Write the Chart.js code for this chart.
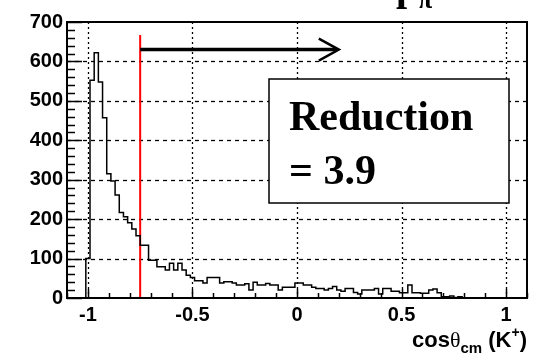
<!DOCTYPE html>
<html>
<head>
<meta charset="utf-8">
<script src="https://cdn.jsdelivr.net/npm/chart.js@4.4.0/dist/chart.umd.min.js"></script>
<style>
html, body { margin: 0; padding: 0; background: #fff; }
#wrap { width: 539px; height: 361px; }
</style>
</head>
<body>
<div id="wrap"><canvas id="cosk"></canvas></div>
<script>
// histogram of cos(theta_cm) for K+, 0.02 wide bins starting at -1.01
const binStart = -1.01;
const binWidth = 0.02;
const counts = [
  100, 552, 622, 548, 457, 315, 297, 261, 217,
  206, 191, 175, 158, 134, 134, 96, 96, 79, 79,
  71, 88, 71, 88, 71, 58, 52, 44, 44, 38,
  52, 52, 52, 38, 41, 41, 38, 33, 33, 36,
  20, 40, 33, 33, 37, 33, 33, 20, 27, 27,
  27, 38, 38, 33, 33, 27, 24, 24, 20, 24,
  29, 20, 17, 24, 24, 14, 10, 20, 20, 20,
  24, 10, 24, 24, 17, 17, 13, 13, 33, 13,
  13, 12, 12, 20, 23, 13, 3, 3, 5, 1,
  3
];

const xTicks = [-1, -0.5, 0, 0.5, 1];
const yTicks = [0, 100, 200, 300, 400, 500, 600, 700];

// cut and arrow
const cutValue = -0.75;
const cutTop = 667;
const arrowEnd = 0.2;
const arrowLevel = 630;
const boxLines = ["Reduction", "= 3.9"];

// build the step outline from the bins
const histPoints = [{ x: binStart, y: 0 }];
counts.forEach((c, i) => histPoints.push({ x: binStart + i * binWidth, y: c }));
histPoints.push({ x: binStart + counts.length * binWidth, y: 0 });

const sans = '"Liberation Sans", Arial, sans-serif';
const serif = '"Liberation Serif", "Times New Roman", serif';

const rootLook = {
  id: 'rootLook',
  beforeDatasetsDraw(chart) {
    const { ctx, chartArea: a, scales: { x, y } } = chart;
    ctx.save();
    ctx.strokeStyle = '#000';
    ctx.lineWidth = 1.3;
    // dotted grid
    ctx.setLineDash([2, 3]);
    xTicks.forEach(v => {
      const px = Math.round(x.getPixelForValue(v)) + 0.5;
      ctx.beginPath(); ctx.moveTo(px, a.top); ctx.lineTo(px, a.bottom); ctx.stroke();
    });
    ctx.setLineDash([4, 4]);
    yTicks.slice(1, -1).forEach(v => {
      const py = Math.round(y.getPixelForValue(v)) + 0.5;
      ctx.beginPath(); ctx.moveTo(a.left, py); ctx.lineTo(a.right, py); ctx.stroke();
    });
    ctx.restore();
  },
  afterDatasetsDraw(chart) {
    const { ctx, chartArea: a, scales: { x, y } } = chart;
    ctx.save();
    ctx.strokeStyle = '#000';
    ctx.setLineDash([]);

    // inward ticks
    ctx.lineWidth = 1.5;
    for (let v = -1.1; v <= 1.1001; v += 0.1) {
      const px = Math.round(x.getPixelForValue(v)) + 0.5;
      const major = Math.abs(v * 2 - Math.round(v * 2)) < 0.001;
      ctx.beginPath(); ctx.moveTo(px, a.bottom); ctx.lineTo(px, a.bottom - (major ? 9 : 5)); ctx.stroke();
    }
    for (let v = 0; v <= 700; v += 20) {
      const py = Math.round(y.getPixelForValue(v)) + 0.5;
      const major = v % 100 === 0;
      ctx.beginPath(); ctx.moveTo(a.left, py); ctx.lineTo(a.left + (major ? 15 : 8), py); ctx.stroke();
    }

    // frame
    ctx.lineWidth = 2;
    ctx.strokeRect(a.left, a.top, a.right - a.left, a.bottom - a.top);

    // arrow
    const ax0 = x.getPixelForValue(cutValue);
    const ax1 = x.getPixelForValue(arrowEnd);
    const ay = y.getPixelForValue(arrowLevel);
    ctx.lineWidth = 3.5;
    ctx.beginPath(); ctx.moveTo(ax0, ay); ctx.lineTo(ax1 - 2, ay); ctx.stroke();
    ctx.lineWidth = 2.5;
    ctx.beginPath();
    ctx.moveTo(ax1 - 20, ay - 11); ctx.lineTo(ax1, ay); ctx.lineTo(ax1 - 20, ay + 11);
    ctx.stroke();

    // text box
    ctx.fillStyle = '#fff';
    ctx.fillRect(269, 79, 240, 124);
    ctx.lineWidth = 1.5;
    ctx.strokeRect(269, 79, 240, 124);
    ctx.fillStyle = '#000';
    ctx.font = 'bold 42px ' + serif;
    ctx.textBaseline = 'alphabetic';
    ctx.fillText(boxLines[0], 289, 130);
    ctx.fillText(boxLines[1], 289, 184);
    ctx.restore();
  },
  afterDraw(chart) {
    const { ctx, chartArea: a } = chart;
    ctx.save();
    ctx.fillStyle = '#000';
    ctx.textBaseline = 'alphabetic';
    // axis title: cos theta_cm (K+)
    const parts = [
      { t: 'cos', f: 'bold 22px ' + sans, dy: 0 },
      { t: 'θ', f: '22px ' + serif, dy: 0 },
      { t: 'cm', f: 'bold 15px ' + sans, dy: 6 },
      { t: ' (K', f: 'bold 22px ' + sans, dy: 0 },
      { t: '+', f: 'bold 14px ' + sans, dy: -10 },
      { t: ')', f: 'bold 22px ' + sans, dy: 0 }
    ];
    let total = 0;
    parts.forEach(p => { ctx.font = p.f; p.w = ctx.measureText(p.t).width; total += p.w; });
    let cx = a.right - total;
    const base = 347;
    parts.forEach(p => { ctx.font = p.f; ctx.fillText(p.t, cx, base + p.dy); cx += p.w; });

    // title, cut off at the top of the picture
    ctx.font = 'bold 40px ' + serif;
    ctx.fillText('p', 396, 0);
    ctx.font = 'bold 26px ' + serif;
    ctx.fillText('π', 418, 8);
    ctx.restore();
  }
};

const ctx = document.getElementById('cosk').getContext('2d');
const chart = new Chart(ctx, {
  type: 'line',
  data: {
    datasets: [
      {
        label: 'cos theta',
        data: histPoints,
        borderColor: '#000',
        borderWidth: 1.5,
        stepped: 'before',
        pointRadius: 0,
        fill: false
      },
      {
        label: 'cut',
        data: [{ x: cutValue, y: 0 }, { x: cutValue, y: cutTop }],
        borderColor: '#ff0000',
        borderWidth: 2,
        pointRadius: 0,
        fill: false
      }
    ]
  },
  options: {
    responsive: true,
    maintainAspectRatio: false,
    animation: false,
    layout: { padding: { top: 22, right: 12, left: 0, bottom: 0 } },
    plugins: { legend: { display: false }, tooltip: { enabled: false } },
    scales: {
      x: {
        type: 'linear',
        min: -1.1,
        max: 1.1,
        afterBuildTicks: s => { s.ticks = xTicks.map(v => ({ value: v })); },
        afterFit: s => { s.height = 63; },
        grid: { display: false, drawTicks: false },
        border: { display: false },
        ticks: {
          padding: 5,
          color: '#000',
          font: { family: sans, size: 20, weight: 'bold' },
          maxRotation: 0,
          callback: v => String(v)
        }
      },
      y: {
        min: 0,
        max: 700,
        afterBuildTicks: s => { s.ticks = yTicks.map(v => ({ value: v })); },
        afterFit: s => { s.width = 67; },
        grid: { display: false, drawTicks: false },
        border: { display: false },
        ticks: {
          padding: 4,
          color: '#000',
          font: { family: sans, size: 20, weight: 'bold' },
          callback: v => String(v)
        }
      }
    }
  },
  plugins: [rootLook]
});
</script>
</body>
</html>
